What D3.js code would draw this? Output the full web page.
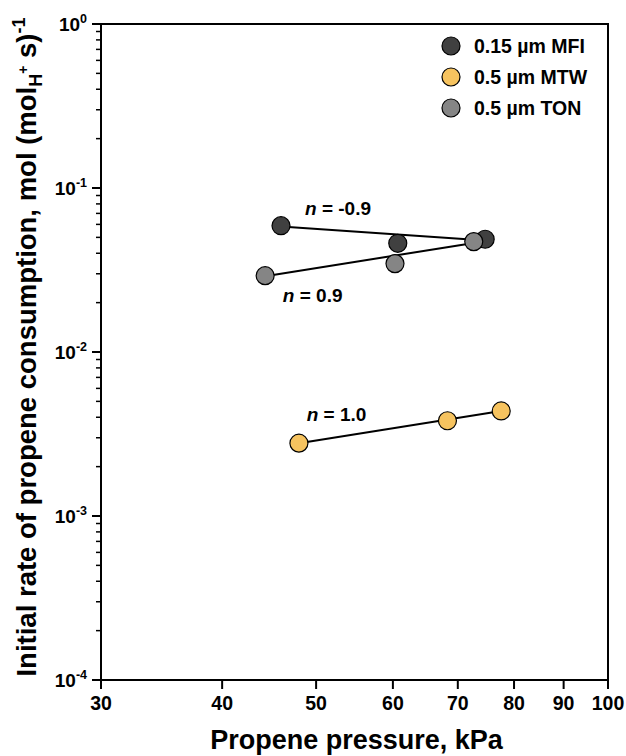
<!DOCTYPE html>
<html><head><meta charset="utf-8">
<script src="https://cdn.jsdelivr.net/npm/d3@7"></script>
<style>body{margin:0;background:#fff;}svg{display:block;font-family:"Liberation Sans",Arial,sans-serif;}</style>
</head><body>
<svg id="c" width="626" height="756"></svg>
<script>
// ---- data ----
const seriesNames = ["0.15 µm MFI", "0.5 µm MTW", "0.5 µm TON"];
const seriesColors = ["#404040", "#f6c35f", "#858585"];
const mfiX = [46.0, 60.7, 74.7];
const mfiY = [0.0589, 0.0460, 0.0487];
const mtwX = [48.0, 68.3, 77.6];
const mtwY = [0.00278, 0.00381, 0.00437];
const tonX = [44.3, 60.3, 72.7];
const tonY = [0.0292, 0.0346, 0.0471];
// fitted lines (endpoints)
const mfiFitX = [46.0, 74.7], mfiFitY = [0.0582, 0.0479];
const mtwFitX = [48.0, 77.6], mtwFitY = [0.00278, 0.00437];
const tonFitX = [44.3, 72.7], tonFitY = [0.0290, 0.0462];
const annotText = ["-0.9", "0.9", "1.0"];
const annotX = [48.7, 46.2, 48.9];
const annotY = [0.0684, 0.0202, 0.00380];
const xTicks = [30, 40, 50, 60, 70, 80, 90, 100];
const yExps = [0, -1, -2, -3, -4];

// ---- chart ----
const svg = d3.select("#c");
const x = d3.scaleLog().domain([30, 100]).range([101, 608]);
const y = d3.scaleLog().domain([1e-4, 1]).range([680, 24]);
const L = 101, R = 608, T = 24, B = 680;

// minor y ticks
const minor = [];
yExps.slice(0, 4).forEach(e => { for (let k = 2; k <= 9; k++) minor.push(k * Math.pow(10, e - 1)); });
svg.append("g").selectAll("line").data(minor).join("line")
  .attr("x1", L - 5).attr("x2", L).attr("y1", d => y(d)).attr("y2", d => y(d))
  .attr("stroke", "#000").attr("stroke-width", 1.5);
// major y ticks
const gy = svg.append("g");
gy.selectAll("line").data(yExps).join("line")
  .attr("x1", L - 9).attr("x2", L).attr("y1", d => y(Math.pow(10, d))).attr("y2", d => y(Math.pow(10, d)))
  .attr("stroke", "#000").attr("stroke-width", 2);
const yl = gy.selectAll("text").data(yExps).join("text")
  .attr("x", 87).attr("y", d => y(Math.pow(10, d)) + 6.5)
  .attr("text-anchor", "end").attr("font-weight", "bold").attr("font-size", 19);
yl.append("tspan").text("10");
yl.append("tspan").attr("dy", -7.5).attr("font-size", 12.5).text(d => d);

// x ticks
const gx = svg.append("g");
gx.selectAll("line").data(xTicks).join("line")
  .attr("x1", d => x(d)).attr("x2", d => x(d)).attr("y1", B).attr("y2", B + 9)
  .attr("stroke", "#000").attr("stroke-width", 2);
gx.selectAll("text").data(xTicks).join("text")
  .attr("x", d => x(d)).attr("y", B + 30).attr("text-anchor", "middle")
  .attr("font-weight", "bold").attr("font-size", 19.5).text(d => d);

// frame
svg.append("rect").attr("x", L).attr("y", T).attr("width", R - L).attr("height", B - T)
  .attr("fill", "none").attr("stroke", "#000").attr("stroke-width", 2);

// titles
svg.append("text").attr("x", (L + R) / 2 + 2).attr("y", 749).attr("text-anchor", "middle")
  .attr("font-weight", "bold").attr("font-size", 27).text("Propene pressure, kPa");
const yt = svg.append("text").attr("transform", "translate(36,347) rotate(-90)")
  .attr("text-anchor", "middle").attr("font-weight", "bold").attr("font-size", 27.5);
yt.append("tspan").text("Initial rate of propene consumption, mol (mol");
yt.append("tspan").attr("dy", 6).attr("font-size", 18).text("H");
yt.append("tspan").attr("dy", -14).attr("font-size", 14).text("+");
yt.append("tspan").attr("dy", 8).text(" s)");
yt.append("tspan").attr("dy", -11).attr("font-size", 18).text("-1");

// lines
const fits = [[mfiFitX, mfiFitY], [mtwFitX, mtwFitY], [tonFitX, tonFitY]];
const lineGen = d3.line().x(d => x(d[0])).y(d => y(d[1]));
fits.forEach(f => {
  svg.append("path").datum(d3.zip(f[0], f[1])).attr("d", lineGen)
    .attr("fill", "none").attr("stroke", "#000").attr("stroke-width", 2);
});

// points: MFI, MTW, then TON on top
const pts = [[mfiX, mfiY, 0], [mtwX, mtwY, 1], [tonX, tonY, 2]];
pts.forEach(p => {
  svg.append("g").selectAll("circle").data(d3.zip(p[0], p[1])).join("circle")
    .attr("cx", d => x(d[0])).attr("cy", d => y(d[1])).attr("r", 9)
    .attr("fill", seriesColors[p[2]]).attr("stroke", "#000").attr("stroke-width", 1.2);
});

// annotations
annotText.forEach((t, i) => {
  const tx = svg.append("text").attr("x", x(annotX[i])).attr("y", y(annotY[i]))
    .attr("font-weight", "bold").attr("font-size", 19);
  tx.append("tspan").attr("font-style", "italic").text("n");
  tx.append("tspan").text(" = " + t);
});

// legend
const lg = svg.append("g");
seriesNames.forEach((s, i) => {
  lg.append("circle").attr("cx", 451).attr("cy", 46 + i * 31).attr("r", 9)
    .attr("fill", seriesColors[i]).attr("stroke", "#000").attr("stroke-width", 1.2);
  lg.append("text").attr("x", 474).attr("y", 46 + i * 31 + 7)
    .attr("font-weight", "bold").attr("font-size", 19.5).text(s);
});
</script>
</body></html>
